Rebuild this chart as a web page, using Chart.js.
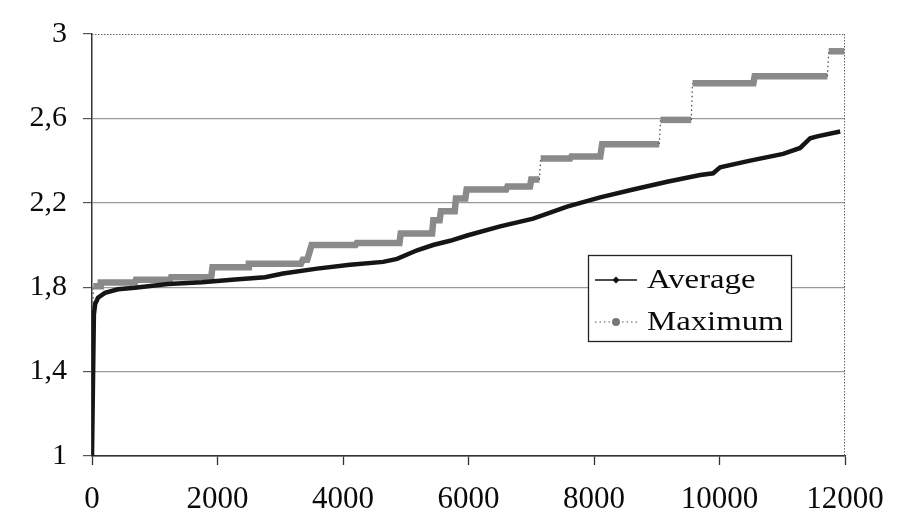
<!DOCTYPE html>
<html><head><meta charset="utf-8">
<script src="https://cdn.jsdelivr.net/npm/chart.js@4.4.1/dist/chart.umd.min.js"></script>
<style>html,body{margin:0;padding:0;background:#fff;}#wrap{width:901px;height:518px;position:relative;}</style>
</head><body><div id="wrap"><canvas id="c" width="901" height="518"></canvas></div>
<script>
const seriesNames = ['Average', 'Maximum'];

// Average series (x, y)
const avgX = [0, 30, 50, 96, 207, 414, 685, 1211, 1753, 2279, 2758, 3045, 3587, 4113, 4639, 4862, 5181, 5436, 5707, 5978, 6504, 7030, 7572, 8098, 8624, 9166, 9692, 9899, 10010, 10489, 11015, 11286, 11445, 11557, 11923];
const avgY = [1.0, 1.67, 1.72, 1.75, 1.773, 1.79, 1.797, 1.815, 1.824, 1.837, 1.847, 1.865, 1.888, 1.906, 1.92, 1.934, 1.975, 2.0, 2.02, 2.045, 2.088, 2.125, 2.182, 2.226, 2.263, 2.30, 2.332, 2.34, 2.368, 2.40, 2.432, 2.46, 2.506, 2.515, 2.538];

// Maximum series: constant runs (start x, end x, value)
const maxStart = [0, 20, 140, 700, 1260, 1920, 2500, 3360, 3500, 4220, 4920, 5440, 5560, 5800, 5970, 6620, 7000, 7150, 7640, 8130, 9060, 9570, 10560, 11740];
const maxEnd   = [0, 128, 685, 1243, 1900, 2490, 3330, 3430, 4200, 4900, 5420, 5540, 5780, 5950, 6600, 6980, 7130, 7620, 8100, 9040, 9550, 10540, 11720, 11990];
const maxVal   = [1.0, 1.805, 1.822, 1.835, 1.847, 1.895, 1.911, 1.93, 2.0, 2.01, 2.055, 2.117, 2.16, 2.22, 2.263, 2.277, 2.31, 2.41, 2.42, 2.478, 2.593, 2.767, 2.80, 2.918];

const xTickValues = [0, 2000, 4000, 6000, 8000, 10000, 12000];
const yTickLabels = ['1', '1,4', '1,8', '2,2', '2,6', '3'];

const avgData = avgX.map((x, i) => ({x: x, y: avgY[i]}));
const maxData = [];
maxStart.forEach((s, i) => {
  maxData.push({x: s, y: maxVal[i]});
  if (maxEnd[i] !== s) maxData.push({x: maxEnd[i], y: maxVal[i]});
});

const FONT = "'Liberation Serif', 'Times New Roman', Times, serif";

const isThick = ctx => Math.abs(ctx.p1.parsed.y - ctx.p0.parsed.y) < 0.075;

const frame = {
  id: 'frame',
  beforeDatasetsDraw(chart) {
    const {ctx, chartArea: a} = chart;
    ctx.save();
    ctx.strokeStyle = '#666';
    ctx.lineWidth = 1;
    ctx.setLineDash([1.5, 1.5]);
    ctx.beginPath();
    ctx.moveTo(a.left, a.top + 0.5); ctx.lineTo(a.right, a.top + 0.5);
    ctx.moveTo(a.right - 0.5, a.top); ctx.lineTo(a.right - 0.5, a.bottom);
    ctx.stroke();
    ctx.restore();
  }
};

const legendBox = {
  id: 'legendBox',
  afterDraw(chart) {
    const ctx = chart.ctx;
    const bx = 588, by = 255, bw = 203, bh = 86;
    ctx.save();
    ctx.fillStyle = '#fff';
    ctx.fillRect(bx, by, bw, bh);
    ctx.strokeStyle = '#222';
    ctx.lineWidth = 1.3;
    ctx.strokeRect(bx + 0.5, by + 0.5, bw, bh);
    const rows = [280, 322];
    ctx.strokeStyle = '#111'; ctx.lineWidth = 1.5;
    ctx.beginPath(); ctx.moveTo(595, rows[0]); ctx.lineTo(637, rows[0]); ctx.stroke();
    ctx.fillStyle = '#111';
    ctx.beginPath(); ctx.moveTo(616, rows[0] - 3.5); ctx.lineTo(619.5, rows[0]); ctx.lineTo(616, rows[0] + 3.5); ctx.lineTo(612.5, rows[0]); ctx.closePath(); ctx.fill();
    ctx.strokeStyle = '#555'; ctx.lineWidth = 1.2; ctx.setLineDash([1.5, 3]);
    ctx.beginPath(); ctx.moveTo(595, rows[1]); ctx.lineTo(637, rows[1]); ctx.stroke();
    ctx.setLineDash([]);
    ctx.fillStyle = '#777';
    ctx.beginPath(); ctx.arc(616, rows[1], 4, 0, Math.PI * 2); ctx.fill();
    ctx.fillStyle = '#0a0a0a';
    ctx.font = '28px ' + FONT;
    ctx.textBaseline = 'middle';
    chart.data.datasets.forEach((ds, i) => {
      ctx.save();
      ctx.translate(647, rows[i] + 1);
      ctx.scale(1.17, 1);
      ctx.fillText(ds.label, 0, 0);
      ctx.restore();
    });
    ctx.restore();
  }
};

new Chart(document.getElementById('c'), {
  type: 'line',
  data: {
    datasets: [
      {
        label: seriesNames[0],
        data: avgData,
        borderColor: '#151515',
        borderWidth: 4.5,
        pointRadius: 0,
        tension: 0,
        order: 0
      },
      {
        label: seriesNames[1],
        data: maxData,
        borderColor: '#8a8a8a',
        borderWidth: 6.5,
        pointRadius: 0,
        tension: 0,
        order: 1,
        segment: {
          borderColor: ctx => isThick(ctx) ? '#8a8a8a' : '#444',
          borderWidth: ctx => isThick(ctx) ? 6.5 : 1.2,
          borderDash: ctx => isThick(ctx) ? undefined : [1.5, 3]
        }
      }
    ]
  },
  options: {
    responsive: false,
    animation: false,
    devicePixelRatio: 1,
    layout: {padding: {top: 19, right: 56, left: 0, bottom: 0}},
    plugins: {legend: {display: false}, tooltip: {enabled: false}},
    scales: {
      x: {
        type: 'linear', min: 0, max: 12000,
        afterBuildTicks: s => { s.ticks = xTickValues.map(v => ({value: v})); },
        ticks: {callback: v => String(v), font: {family: FONT, size: 31}, color: '#0a0a0a', padding: 16, maxRotation: 0, autoSkip: false},
        grid: {drawOnChartArea: false, drawTicks: true, tickLength: 9, tickColor: '#333', tickWidth: 1.3},
        border: {color: '#333', width: 1.5},
        afterFit: s => { s.height = 62; }
      },
      y: {
        type: 'linear', min: 1, max: 3,
        ticks: {stepSize: 0.4, callback: (v, i) => yTickLabels[i], font: {family: FONT, size: 30}, color: '#0a0a0a', padding: 16},
        grid: {
          color: ctx => (ctx.tick && Math.abs(ctx.tick.value - 3) < 1e-6) ? 'rgba(0,0,0,0)' : (ctx.tick && Math.abs(ctx.tick.value - 1) < 1e-6 ? '#333' : '#9a9a9a'),
          lineWidth: 1.2, tickLength: 9, tickColor: '#555', tickWidth: 1.2
        },
        border: {color: '#333', width: 1.5},
        afterFit: s => { s.width = 92; }
      }
    }
  },
  plugins: [frame, legendBox]
});
</script></body></html>
